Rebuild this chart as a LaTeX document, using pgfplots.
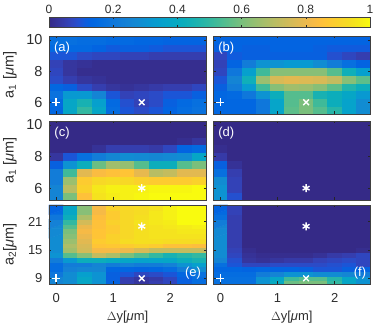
\documentclass[border=0pt]{standalone}
\usepackage{pgfplots}
\pgfplotsset{compat=1.18}
\usepackage{fontspec}
\setmainfont{Liberation Sans}
\definecolor{txt}{RGB}{45,45,45}
\tikzset{tag/.style={text=white, font=\fontsize{13}{13}\selectfont, inner sep=0pt}}
\pgfplotsset{
  colormap={parula}{rgb=(0.2081,0.1663,0.5292) rgb=(0.2116,0.1898,0.5777) rgb=(0.2123,0.2138,0.6270) rgb=(0.2081,0.2386,0.6771)
    rgb=(0.1959,0.2645,0.7279) rgb=(0.1707,0.2919,0.7792) rgb=(0.1253,0.3242,0.8303) rgb=(0.0591,0.3598,0.8683)
    rgb=(0.0117,0.3875,0.8820) rgb=(0.0060,0.4086,0.8828) rgb=(0.0165,0.4266,0.8786) rgb=(0.0329,0.4430,0.8720)
    rgb=(0.0498,0.4586,0.8641) rgb=(0.0629,0.4737,0.8554) rgb=(0.0723,0.4887,0.8467) rgb=(0.0779,0.5040,0.8384)
    rgb=(0.0793,0.5200,0.8312) rgb=(0.0749,0.5375,0.8263) rgb=(0.0641,0.5570,0.8240) rgb=(0.0488,0.5772,0.8228)
    rgb=(0.0343,0.5966,0.8199) rgb=(0.0265,0.6137,0.8135) rgb=(0.0239,0.6287,0.8038) rgb=(0.0231,0.6418,0.7913)
    rgb=(0.0228,0.6535,0.7768) rgb=(0.0267,0.6642,0.7607) rgb=(0.0384,0.6743,0.7436) rgb=(0.0590,0.6838,0.7254)
    rgb=(0.0843,0.6928,0.7062) rgb=(0.1133,0.7015,0.6859) rgb=(0.1453,0.7098,0.6646) rgb=(0.1801,0.7177,0.6424)
    rgb=(0.2178,0.7250,0.6193) rgb=(0.2586,0.7317,0.5954) rgb=(0.3022,0.7376,0.5712) rgb=(0.3482,0.7424,0.5473)
    rgb=(0.3953,0.7459,0.5244) rgb=(0.4420,0.7481,0.5033) rgb=(0.4871,0.7491,0.4840) rgb=(0.5300,0.7491,0.4661)
    rgb=(0.5709,0.7485,0.4494) rgb=(0.6099,0.7473,0.4337) rgb=(0.6473,0.7456,0.4188) rgb=(0.6834,0.7435,0.4044)
    rgb=(0.7184,0.7411,0.3905) rgb=(0.7525,0.7384,0.3768) rgb=(0.7858,0.7356,0.3633) rgb=(0.8185,0.7327,0.3498)
    rgb=(0.8507,0.7299,0.3360) rgb=(0.8824,0.7274,0.3217) rgb=(0.9139,0.7258,0.3063) rgb=(0.9450,0.7261,0.2886)
    rgb=(0.9739,0.7314,0.2666) rgb=(0.9938,0.7455,0.2403) rgb=(0.9990,0.7653,0.2164) rgb=(0.9955,0.7861,0.1967)
    rgb=(0.9880,0.8066,0.1794) rgb=(0.9789,0.8271,0.1633) rgb=(0.9697,0.8481,0.1475) rgb=(0.9626,0.8705,0.1309)
    rgb=(0.9589,0.8949,0.1132) rgb=(0.9598,0.9218,0.0948) rgb=(0.9661,0.9514,0.0755) rgb=(0.9763,0.9831,0.0538)},
  panel/.style={scale only axis, width=157pt, height=79pt, anchor=south west,
    xmin=-0.125, xmax=2.625, xtick={0,1,2}, xticklabels={},
    tick align=inside, major tick length=2.5pt,
    axis line style={draw=black!75, line width=0.9pt},
    every tick/.style={draw=black!85, line width=0.5pt},
    point meta min=0, point meta max=1,
    tick label style={text=txt},
    /pgf/number format/assume math mode=true,
    label style={text=txt, font=\fontsize{13}{13}\selectfont},
    clip=true, axis on top},
  topa/.style={panel, ymin=5.25, ymax=10.25, ytick={6,8,10}, yticklabels={}},
  topb/.style={panel, ymin=7.8, ymax=24.5, ytick={9,15,21}, yticklabels={}},
  cell/.style={surf, shader=flat corner, mesh/cols=12, point meta=explicit},
  wm/.style={only marks, draw=white, fill=white, mark options={draw=white, fill=white, line width=1.4pt}, mark size=4pt},
  ylab/.style={yticklabel style={font=\fontsize{14.5}{14.5}\selectfont, xshift=-3pt},
    ylabel style={at={(axis description cs:0,0.5)}, anchor=center, yshift=39pt, font=\fontsize{14.5}{14.5}\selectfont}},
  xlab/.style={xticklabels={0,1,2}, xticklabel style={font=\fontsize{13}{13}\selectfont, yshift=-6pt},
    xlabel={$\Delta$y[\textit{μ}m]}, xlabel style={at={(axis description cs:0.5,0)}, anchor=center, yshift=-33pt}},
  /pgfplots/table/gridA/.style={row sep=crcr, x expr={mod(\coordindex,12)*0.25-0.125},
    y expr={5.25+0.5*floor(\coordindex/12)}, meta=z},
  /pgfplots/table/gridB/.style={row sep=crcr, x expr={mod(\coordindex,12)*0.25-0.125},
    y expr={7.5+floor(\coordindex/12)}, meta=z},
}
\begin{document}
\begin{tikzpicture}
\path[use as bounding box] (0,0) rectangle (374pt,326pt);
% rows run from the bottom up, last column and last row only close the mesh
% panel (a)
\begin{axis}[topa, at={(49pt,212pt)}, height=78pt, ylab,
  ylabel={a\textsubscript{1} [\textit{μ}m]}, yticklabels={6,8,10},
  colorbar horizontal,
  colorbar style={at={(0,1.115)}, anchor=south west, width=321pt, height=10pt,
    xticklabel pos=upper, xtick={0,0.2,0.4,0.6,0.8,1}, xticklabels={0,0.2,0.4,0.6,0.8,1},
    tick align=inside, major tick length=2pt, ytick=\empty,
    xticklabel style={font=\fontsize{12}{12}\selectfont, text=txt},
    axis line style={draw=black!75, line width=0.9pt}, xlabel={}, ylabel={}}]
\addplot[cell] table[gridA] {z\\
.14\\.38\\.50\\.38\\.16\\.10\\.08\\.10\\.13\\.16\\.18\\0\\
.15\\.38\\.45\\.35\\.15\\.09\\.06\\.08\\.12\\.15\\.17\\0\\
.18\\.32\\.32\\.25\\.10\\.06\\.07\\.08\\.10\\.10\\.12\\0\\
.14\\.12\\.08\\.05\\.03\\.02\\.03\\.04\\.05\\.05\\.07\\0\\
.08\\.05\\.03\\.02\\.01\\.01\\.01\\.01\\.01\\.01\\.01\\0\\
.07\\.03\\.01\\.01\\.01\\.01\\.01\\.01\\.01\\.01\\.01\\0\\
.06\\.03\\.02\\.01\\.01\\.01\\.01\\.01\\.01\\.01\\.01\\0\\
.10\\.10\\.08\\.07\\.07\\.06\\.06\\.05\\.05\\.05\\.05\\0\\
.15\\.15\\.15\\.13\\.11\\.12\\.12\\.11\\.10\\.10\\.10\\0\\
.17\\.17\\.16\\.16\\.15\\.15\\.14\\.14\\.13\\.13\\.13\\0\\
0\\0\\0\\0\\0\\0\\0\\0\\0\\0\\0\\0\\
};
\addplot[wm, mark=+] coordinates {(0,6)};
\addplot[wm, mark=x] coordinates {(1.5,6)};
\node[tag] at (rel axis cs:0.083,0.846) {(a)};
\end{axis}
% panel (b)
\begin{axis}[topa, at={(213.3pt,212pt)}, height=78pt]
\addplot[cell] table[gridA] {z\\
.14\\.14\\.14\\.20\\.37\\.56\\.60\\.55\\.48\\.36\\.28\\0\\
.14\\.14\\.14\\.20\\.37\\.55\\.60\\.52\\.42\\.36\\.28\\0\\
.14\\.15\\.20\\.30\\.42\\.55\\.55\\.45\\.42\\.38\\.32\\0\\
.12\\.22\\.33\\.52\\.62\\.66\\.65\\.62\\.56\\.47\\.42\\0\\
.10\\.25\\.43\\.65\\.76\\.78\\.77\\.76\\.72\\.62\\.56\\0\\
.07\\.20\\.35\\.52\\.62\\.62\\.62\\.62\\.55\\.43\\.35\\0\\
.06\\.13\\.22\\.30\\.30\\.32\\.32\\.28\\.22\\.17\\.13\\0\\
.07\\.11\\.12\\.12\\.12\\.12\\.12\\.12\\.09\\.07\\.05\\0\\
.12\\.13\\.12\\.12\\.13\\.13\\.13\\.12\\.11\\.11\\.11\\0\\
.13\\.13\\.13\\.13\\.13\\.13\\.13\\.13\\.13\\.13\\.13\\0\\
0\\0\\0\\0\\0\\0\\0\\0\\0\\0\\0\\0\\
};
\addplot[wm, mark=+] coordinates {(0,6)};
\addplot[wm, mark=x] coordinates {(1.5,6)};
\node[tag] at (rel axis cs:0.083,0.846) {(b)};
\end{axis}
% panel (c)
\begin{axis}[topa, at={(49pt,126pt)}, ylab,
  ylabel={a\textsubscript{1} [\textit{μ}m]}, yticklabels={6,8,10}]
\addplot[cell] table[gridA] {z\\
.25\\.60\\.85\\.95\\.97\\.98\\.99\\1\\1\\1\\1\\0\\
.25\\.70\\.90\\.96\\.98\\.98\\.98\\.99\\.99\\.99\\1\\0\\
.22\\.65\\.88\\.92\\.93\\.92\\.90\\.88\\.88\\.88\\.90\\0\\
.22\\.52\\.78\\.83\\.85\\.86\\.79\\.70\\.72\\.78\\.78\\0\\
.12\\.30\\.42\\.58\\.66\\.64\\.55\\.42\\.42\\.55\\.60\\0\\
.03\\.10\\.17\\.22\\.26\\.28\\.27\\.26\\.27\\.28\\.38\\0\\
0\\0\\0\\.02\\.05\\.05\\.05\\.04\\.07\\.13\\.15\\0\\
0\\0\\0\\0\\0\\0\\0\\0\\0\\.01\\.03\\0\\
0\\0\\0\\0\\0\\0\\0\\0\\0\\0\\0\\0\\
0\\0\\0\\0\\0\\0\\0\\0\\0\\0\\0\\0\\
0\\0\\0\\0\\0\\0\\0\\0\\0\\0\\0\\0\\
};
\addplot[wm, mark=asterisk] coordinates {(1.5,6)};
\node[tag] at (rel axis cs:0.083,0.848) {(c)};
\end{axis}
% panel (d)
\begin{axis}[topa, at={(213.3pt,126pt)}]
\addplot[cell] table[gridA] {z\\
.30\\.09\\0\\0\\0\\0\\0\\0\\0\\0\\0\\0\\
.30\\.06\\0\\0\\0\\0\\0\\0\\0\\0\\0\\0\\
.28\\.06\\0\\0\\0\\0\\0\\0\\0\\0\\0\\0\\
.17\\.05\\0\\0\\0\\0\\0\\0\\0\\0\\0\\0\\
.12\\.02\\0\\0\\0\\0\\0\\0\\0\\0\\0\\0\\
.04\\0\\0\\0\\0\\0\\0\\0\\0\\0\\0\\0\\
.01\\0\\0\\0\\0\\0\\0\\0\\0\\0\\0\\0\\
0\\0\\0\\0\\0\\0\\0\\0\\0\\0\\0\\0\\
0\\0\\0\\0\\0\\0\\0\\0\\0\\0\\0\\0\\
0\\0\\0\\0\\0\\0\\0\\0\\0\\0\\0\\0\\
0\\0\\0\\0\\0\\0\\0\\0\\0\\0\\0\\0\\
};
\addplot[wm, mark=asterisk] coordinates {(1.5,6)};
\node[tag] at (rel axis cs:0.083,0.848) {(d)};
\end{axis}
% panel (e)
\begin{axis}[topb, at={(49pt,42pt)}, ylab, xlab,
  yticklabel style={font=\fontsize{13}{13}\selectfont},
  ylabel={a\textsubscript{2}[\textit{μ}m]}, yticklabels={9,15,21}]
\addplot[cell] table[gridB] {z\\
.25\\.28\\.38\\.30\\.13\\.05\\.03\\.05\\.07\\.12\\.16\\0\\
.25\\.28\\.38\\.30\\.12\\.05\\.03\\.04\\.07\\.12\\.16\\0\\
.20\\.28\\.35\\.30\\.12\\.10\\.07\\.08\\.10\\.14\\.18\\0\\
.16\\.24\\.26\\.26\\.14\\.14\\.13\\.14\\.16\\.22\\.28\\0\\
.16\\.22\\.22\\.25\\.22\\.24\\.22\\.22\\.24\\.30\\.35\\0\\
.22\\.32\\.42\\.42\\.40\\.38\\.36\\.37\\.38\\.42\\.45\\0\\
.30\\.55\\.62\\.72\\.68\\.60\\.55\\.50\\.45\\.48\\.50\\0\\
.28\\.66\\.75\\.82\\.82\\.80\\.76\\.72\\.72\\.72\\.72\\0\\
.28\\.68\\.76\\.86\\.87\\.88\\.90\\.88\\.85\\.85\\.84\\0\\
.28\\.65\\.78\\.88\\.90\\.93\\.94\\.94\\.93\\.93\\.93\\0\\
.28\\.62\\.80\\.86\\.90\\.92\\.94\\.95\\.95\\.95\\.95\\0\\
.27\\.60\\.82\\.86\\.88\\.92\\.94\\.95\\.95\\.96\\.96\\0\\
.27\\.55\\.80\\.85\\.88\\.92\\.94\\.95\\.96\\.97\\.98\\0\\
.24\\.50\\.75\\.85\\.90\\.92\\.95\\.96\\.97\\1\\1\\0\\
.20\\.42\\.68\\.84\\.88\\.92\\.94\\.96\\.98\\1\\1\\0\\
.15\\.38\\.62\\.82\\.88\\.92\\.93\\.96\\.98\\1\\1\\0\\
.13\\.38\\.62\\.82\\.90\\.92\\.93\\.95\\.98\\1\\1\\0\\
0\\0\\0\\0\\0\\0\\0\\0\\0\\0\\0\\0\\
};
\addplot[wm, mark=+] coordinates {(0,9)};
\addplot[wm, mark=x] coordinates {(1.5,9)};
\addplot[wm, mark=asterisk] coordinates {(1.5,20)};
\node[tag] at (rel axis cs:0.917,0.14) {(e)};
\end{axis}
% panel (f)
\begin{axis}[topb, at={(213.3pt,42pt)}, xlab]
\addplot[cell] table[gridB] {z\\
.17\\.17\\.17\\.30\\.40\\.58\\.60\\.60\\.50\\.38\\.30\\0\\
.17\\.17\\.17\\.30\\.38\\.52\\.55\\.55\\.48\\.38\\.30\\0\\
.16\\.16\\.16\\.22\\.25\\.30\\.30\\.28\\.28\\.26\\.22\\0\\
.14\\.14\\.13\\.14\\.13\\.13\\.12\\.10\\.10\\.12\\.13\\0\\
.17\\.10\\.07\\.07\\.08\\.08\\.08\\.08\\.09\\.10\\.07\\0\\
.25\\.09\\.03\\.02\\.03\\.04\\.04\\.06\\.07\\.08\\.07\\0\\
.28\\.07\\.02\\.01\\.01\\.01\\.01\\.02\\.04\\.05\\.07\\0\\
.28\\.06\\.01\\0\\0\\0\\0\\0\\0\\0\\.01\\0\\
.28\\.05\\0\\0\\0\\0\\0\\0\\0\\0\\0\\0\\
.28\\.05\\0\\0\\0\\0\\0\\0\\0\\0\\0\\0\\
.28\\.05\\0\\0\\0\\0\\0\\0\\0\\0\\0\\0\\
.27\\.05\\0\\0\\0\\0\\0\\0\\0\\0\\0\\0\\
.25\\.05\\0\\0\\0\\0\\0\\0\\0\\0\\0\\0\\
.22\\.05\\0\\0\\0\\0\\0\\0\\0\\0\\0\\0\\
.17\\.05\\0\\0\\0\\0\\0\\0\\0\\0\\0\\0\\
.15\\.06\\0\\0\\0\\0\\0\\0\\0\\0\\0\\0\\
.13\\.06\\0\\0\\0\\0\\0\\0\\0\\0\\0\\0\\
0\\0\\0\\0\\0\\0\\0\\0\\0\\0\\0\\0\\
};
\addplot[wm, mark=+] coordinates {(0,9)};
\addplot[wm, mark=x] coordinates {(1.5,9)};
\addplot[wm, mark=asterisk] coordinates {(1.5,20)};
\node[tag] at (rel axis cs:0.934,0.14) {(f)};
\end{axis}
\end{tikzpicture}
\end{document}
